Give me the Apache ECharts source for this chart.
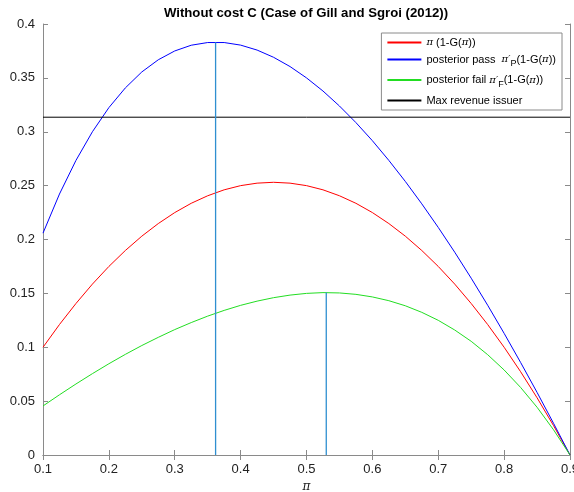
<!DOCTYPE html>
<html>
<head>
<meta charset="utf-8">
<script src="https://cdn.jsdelivr.net/npm/echarts@6/dist/echarts.min.js"></script>
<style>
  html, body { margin: 0; padding: 0; background: #fff; }
  #chart { width: 574px; height: 492px; }
</style>
</head>
<body>
<div id="chart"></div>
<script>
// prior values on the x axis
var priorX = [0.1, 0.125, 0.15, 0.175, 0.2, 0.225, 0.25, 0.275, 0.3, 0.325, 0.35, 0.375, 0.4,
  0.425, 0.45, 0.475, 0.5, 0.525, 0.55, 0.575, 0.6, 0.625, 0.65, 0.675, 0.7, 0.725, 0.75,
  0.775, 0.8, 0.825, 0.85, 0.875, 0.9];
// pi (1-G(pi))
var revPrior = [0.1000, 0.1211, 0.1406, 0.1586, 0.1750, 0.1898, 0.2031, 0.2148, 0.2250, 0.2336,
  0.2406, 0.2461, 0.2500, 0.2523, 0.2531, 0.2523, 0.2500, 0.2461, 0.2406, 0.2336, 0.2250, 0.2148,
  0.2031, 0.1898, 0.1750, 0.1586, 0.1406, 0.1211, 0.1000, 0.0773, 0.0531, 0.0273, 0];
// posterior pass
var revPass = [0.2059, 0.2422, 0.2734, 0.3000, 0.3224, 0.3407, 0.3555, 0.3668, 0.3750, 0.3803,
  0.3828, 0.3828, 0.3804, 0.3758, 0.3691, 0.3605, 0.3500, 0.3378, 0.3239, 0.3085, 0.2917, 0.2734,
  0.2539, 0.2331, 0.2112, 0.1882, 0.1641, 0.1390, 0.1129, 0.0859, 0.0581, 0.0294, 0];
// posterior fail
var revFail = [0.0455, 0.0559, 0.0659, 0.0755, 0.0847, 0.0934, 0.1016, 0.1092, 0.1164, 0.1229,
  0.1289, 0.1342, 0.1389, 0.1428, 0.1460, 0.1484, 0.1500, 0.1507, 0.1504, 0.1491, 0.1467, 0.1432,
  0.1385, 0.1324, 0.1250, 0.1160, 0.1055, 0.0931, 0.0789, 0.0627, 0.0443, 0.0234, 0];
var maxIssuer = 0.3135;
var passPeak = [0.362, 0.383];
var failPeak = [0.530, 0.1507];

function pairs(xs, ys) {
  return xs.map(function (x, i) { return [x, ys[i]]; });
}

var FONT = "Liberation Sans";
var axisGrey = "#8a8a8a";
var peakColor = "#2f8fd0";

var myChart = echarts.init(document.getElementById("chart"), null, { renderer: "canvas" });

function curve(name, color, ys) {
  return {
    name: name,
    type: "line",
    smooth: false,
    symbol: "none",
    color: color,
    lineStyle: { width: 1, color: color },
    data: pairs(priorX, ys),
  };
}

var axisCommon = {
  axisLine: { show: true, lineStyle: { color: axisGrey, width: 1 } },
  axisTick: { show: true, inside: true, length: 5, lineStyle: { color: axisGrey } },
  splitLine: { show: false },
};

var option = {
  animation: false,
  title: {
    text: "Without cost C (Case of Gill and Sgroi (2012))",
    left: 301,
    top: 2,
    textAlign: "center",
    textStyle: { fontFamily: FONT, fontSize: 13.2, fontWeight: "bold", color: "#000" },
  },
  grid: { left: 43, right: 4, top: 24, bottom: 37, containLabel: false, outerBoundsMode: "none" },
  legend: {
    right: 12,
    top: 33,
    orient: "vertical",
    data: ["pi", "pass", "fail", "max"],
    backgroundColor: "#fff",
    borderColor: "#8a8a8a",
    borderWidth: 1,
    borderRadius: 0,
    padding: [4, 6, 4, 5],
    itemWidth: 34,
    itemHeight: 10,
    itemGap: 6,
    itemStyle: { opacity: 0 },
    textStyle: {
      fontFamily: FONT,
      fontSize: 11,
      color: "#000",
      rich: {
        p: { fontFamily: "DejaVu Serif", fontStyle: "italic", fontSize: 10, color: "#000" },
        s: { fontFamily: FONT, fontSize: 9, padding: [9, 0, 0, 0], color: "#000" },
      },
    },
    formatter: function (name) {
      if (name === "pi") return "{p|π} (1-G({p|π}))";
      if (name === "pass") return "posterior pass  {p|π′}{s|P}(1-G({p|π}))";
      if (name === "fail") return "posterior fail {p|π′}{s|F}(1-G({p|π}))";
      return "Max revenue issuer";
    },
  },
  xAxis: [
    Object.assign({
      type: "value",
      min: 0.1,
      max: 0.9,
      interval: 0.1,
      name: "π",
      nameLocation: "middle",
      nameGap: 23,
      nameTextStyle: { fontFamily: "DejaVu Serif", fontStyle: "italic", fontSize: 12, color: "#222" },
      axisLabel: { fontFamily: FONT, fontSize: 13, color: "#222", margin: 8 },
    }, axisCommon),
    Object.assign({
      type: "value",
      position: "top",
      min: 0.1,
      max: 0.9,
      interval: 0.1,
      axisLabel: { show: false },
    }, axisCommon),
  ],
  yAxis: [
    Object.assign({
      type: "value",
      min: 0,
      max: 0.4,
      interval: 0.05,
      axisLabel: { fontFamily: FONT, fontSize: 13, color: "#222", margin: 8 },
    }, axisCommon),
    Object.assign({
      type: "value",
      position: "right",
      min: 0,
      max: 0.4,
      interval: 0.05,
      axisLabel: { show: false },
    }, axisCommon),
  ],
  series: [
    curve("pi", "#ff0000", revPrior),
    curve("pass", "#0000ff", revPass),
    curve("fail", "#22dd22", revFail),
    {
      name: "max",
      type: "line",
      symbol: "none",
      color: "#000",
      lineStyle: { width: 1, color: "#000" },
      data: [[priorX[0], maxIssuer], [priorX[priorX.length - 1], maxIssuer]],
    },
    {
      name: "passPeak",
      type: "line",
      symbol: "none",
      lineStyle: { width: 1.3, color: peakColor },
      data: [[passPeak[0], 0], passPeak],
    },
    {
      name: "failPeak",
      type: "line",
      symbol: "none",
      lineStyle: { width: 1.3, color: peakColor },
      data: [[failPeak[0], 0], failPeak],
    },
  ],
};

myChart.setOption(option);
</script>
</body>
</html>
